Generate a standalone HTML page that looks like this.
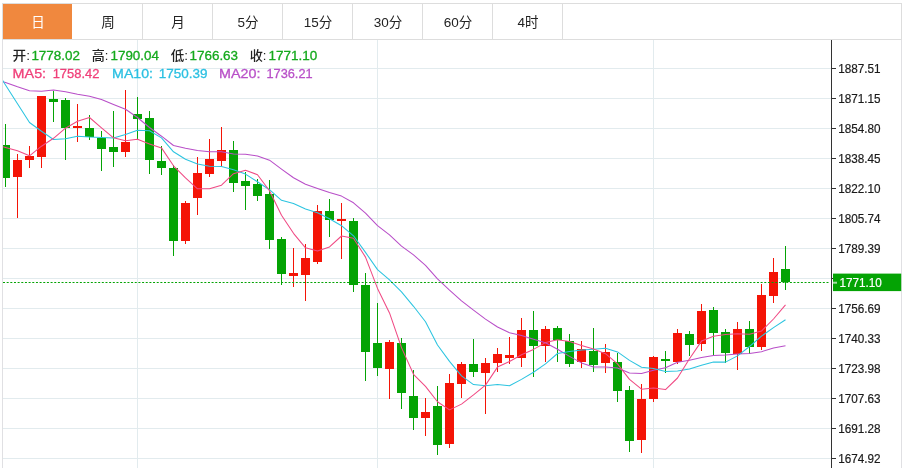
<!DOCTYPE html>
<html lang="zh-CN">
<head>
<meta charset="utf-8">
<title>K线图</title>
<style>
html,body{margin:0;padding:0;background:#fff;}
body{width:903px;height:468px;position:relative;overflow:hidden;font-family:"Liberation Sans","Noto Sans CJK SC",sans-serif;}
.tabs{position:absolute;left:2px;top:3px;width:898px;height:35px;margin:0;padding:0;list-style:none;border:1px solid #ddd;background:#fff;z-index:2;}
.tab{float:left;width:68px;padding-left:1px;height:35px;line-height:37px;text-align:center;font-size:13.5px;color:#222;border-right:1px solid #ddd;}
.tab.on{background:#f0883e;color:#fff;border-right-color:#fff;}
.chart{position:absolute;left:0;top:0;}
.chart text{font-family:"Liberation Sans","Noto Sans CJK SC",sans-serif;}
.ylab text{font-size:13px;fill:#1a1a1a;stroke:#1a1a1a;stroke-width:0.2px;}
.cur{font-size:13px;fill:#fff;stroke:#fff;stroke-width:0.2px;}
.info text{font-size:13px;}
.info .cjk{font-weight:500;}
</style>
</head>
<body>
<svg class="chart" width="903" height="468" viewBox="0 0 903 468">
<defs><clipPath id="plot"><rect x="3" y="40" width="828" height="428"/></clipPath></defs>
<g stroke="#e2ebee" stroke-width="1" shape-rendering="crispEdges">
<line x1="3" y1="68.5" x2="831" y2="68.5"/>
<line x1="3" y1="98.5" x2="831" y2="98.5"/>
<line x1="3" y1="128.5" x2="831" y2="128.5"/>
<line x1="3" y1="158.5" x2="831" y2="158.5"/>
<line x1="3" y1="188.5" x2="831" y2="188.5"/>
<line x1="3" y1="218.5" x2="831" y2="218.5"/>
<line x1="3" y1="248.5" x2="831" y2="248.5"/>
<line x1="3" y1="278.5" x2="831" y2="278.5"/>
<line x1="3" y1="308.5" x2="831" y2="308.5"/>
<line x1="3" y1="338.5" x2="831" y2="338.5"/>
<line x1="3" y1="368.5" x2="831" y2="368.5"/>
<line x1="3" y1="398.5" x2="831" y2="398.5"/>
<line x1="3" y1="428.5" x2="831" y2="428.5"/>
<line x1="3" y1="458.5" x2="831" y2="458.5"/>
<line x1="137.5" y1="40" x2="137.5" y2="468"/>
<line x1="377.5" y1="40" x2="377.5" y2="468"/>
<line x1="653.5" y1="40" x2="653.5" y2="468"/>
</g>
<g stroke="#e0e0e3" stroke-width="1" shape-rendering="crispEdges"><line x1="2.5" y1="40" x2="2.5" y2="468"/><line x1="901.5" y1="40" x2="901.5" y2="468"/></g>
<g clip-path="url(#plot)" shape-rendering="crispEdges">
<rect x="5" y="124" width="1" height="63" fill="#04a304"/>
<rect x="1" y="145" width="9" height="33" fill="#04a304"/>
<rect x="17" y="154" width="1" height="64" fill="#f41406"/>
<rect x="13" y="160" width="9" height="17" fill="#f41406"/>
<rect x="29" y="146" width="1" height="22" fill="#f41406"/>
<rect x="25" y="156" width="9" height="4" fill="#f41406"/>
<rect x="41" y="96" width="1" height="72" fill="#f41406"/>
<rect x="37" y="96" width="9" height="61" fill="#f41406"/>
<rect x="53" y="91" width="1" height="31" fill="#04a304"/>
<rect x="49" y="99" width="9" height="3" fill="#04a304"/>
<rect x="65" y="98" width="1" height="62" fill="#04a304"/>
<rect x="61" y="100" width="9" height="28" fill="#04a304"/>
<rect x="77" y="104" width="1" height="38" fill="#f41406"/>
<rect x="73" y="126" width="9" height="2" fill="#f41406"/>
<rect x="89" y="115" width="1" height="25" fill="#04a304"/>
<rect x="85" y="128" width="9" height="9" fill="#04a304"/>
<rect x="101" y="131" width="1" height="40" fill="#04a304"/>
<rect x="97" y="138" width="9" height="11" fill="#04a304"/>
<rect x="113" y="111" width="1" height="56" fill="#04a304"/>
<rect x="109" y="147" width="9" height="5" fill="#04a304"/>
<rect x="125" y="90" width="1" height="67" fill="#f41406"/>
<rect x="121" y="142" width="9" height="10" fill="#f41406"/>
<rect x="137" y="97" width="1" height="43" fill="#04a304"/>
<rect x="133" y="114" width="9" height="5" fill="#04a304"/>
<rect x="149" y="111" width="1" height="63" fill="#04a304"/>
<rect x="145" y="118" width="9" height="42" fill="#04a304"/>
<rect x="161" y="146" width="1" height="29" fill="#04a304"/>
<rect x="157" y="161" width="9" height="7" fill="#04a304"/>
<rect x="173" y="165" width="1" height="91" fill="#04a304"/>
<rect x="169" y="168" width="9" height="73" fill="#04a304"/>
<rect x="185" y="201" width="1" height="43" fill="#f41406"/>
<rect x="181" y="203" width="9" height="38" fill="#f41406"/>
<rect x="197" y="157" width="1" height="58" fill="#f41406"/>
<rect x="193" y="173" width="9" height="25" fill="#f41406"/>
<rect x="209" y="139" width="1" height="38" fill="#f41406"/>
<rect x="205" y="159" width="9" height="15" fill="#f41406"/>
<rect x="221" y="127" width="1" height="39" fill="#f41406"/>
<rect x="217" y="150" width="9" height="11" fill="#f41406"/>
<rect x="233" y="141" width="1" height="51" fill="#04a304"/>
<rect x="229" y="150" width="9" height="33" fill="#04a304"/>
<rect x="245" y="172" width="1" height="38" fill="#04a304"/>
<rect x="241" y="181" width="9" height="5" fill="#04a304"/>
<rect x="257" y="179" width="1" height="22" fill="#04a304"/>
<rect x="253" y="184" width="9" height="12" fill="#04a304"/>
<rect x="269" y="180" width="1" height="69" fill="#04a304"/>
<rect x="265" y="194" width="9" height="46" fill="#04a304"/>
<rect x="281" y="237" width="1" height="48" fill="#04a304"/>
<rect x="277" y="239" width="9" height="35" fill="#04a304"/>
<rect x="293" y="248" width="1" height="39" fill="#f41406"/>
<rect x="289" y="273" width="9" height="3" fill="#f41406"/>
<rect x="305" y="244" width="1" height="57" fill="#f41406"/>
<rect x="301" y="258" width="9" height="17" fill="#f41406"/>
<rect x="317" y="205" width="1" height="59" fill="#f41406"/>
<rect x="313" y="211" width="9" height="51" fill="#f41406"/>
<rect x="329" y="199" width="1" height="38" fill="#04a304"/>
<rect x="325" y="211" width="9" height="9" fill="#04a304"/>
<rect x="341" y="203" width="1" height="56" fill="#f41406"/>
<rect x="337" y="219" width="9" height="2" fill="#f41406"/>
<rect x="353" y="218" width="1" height="74" fill="#04a304"/>
<rect x="349" y="221" width="9" height="64" fill="#04a304"/>
<rect x="365" y="273" width="1" height="108" fill="#04a304"/>
<rect x="361" y="285" width="9" height="67" fill="#04a304"/>
<rect x="377" y="303" width="1" height="73" fill="#04a304"/>
<rect x="373" y="343" width="9" height="25" fill="#04a304"/>
<rect x="389" y="340" width="1" height="59" fill="#f41406"/>
<rect x="385" y="342" width="9" height="27" fill="#f41406"/>
<rect x="401" y="338" width="1" height="71" fill="#04a304"/>
<rect x="397" y="343" width="9" height="50" fill="#04a304"/>
<rect x="413" y="370" width="1" height="60" fill="#04a304"/>
<rect x="409" y="396" width="9" height="22" fill="#04a304"/>
<rect x="425" y="398" width="1" height="38" fill="#f41406"/>
<rect x="421" y="412" width="9" height="6" fill="#f41406"/>
<rect x="437" y="386" width="1" height="69" fill="#04a304"/>
<rect x="433" y="406" width="9" height="39" fill="#04a304"/>
<rect x="449" y="374" width="1" height="74" fill="#f41406"/>
<rect x="445" y="383" width="9" height="61" fill="#f41406"/>
<rect x="461" y="362" width="1" height="36" fill="#f41406"/>
<rect x="457" y="364" width="9" height="20" fill="#f41406"/>
<rect x="473" y="339" width="1" height="38" fill="#04a304"/>
<rect x="469" y="364" width="9" height="8" fill="#04a304"/>
<rect x="485" y="358" width="1" height="56" fill="#f41406"/>
<rect x="481" y="363" width="9" height="10" fill="#f41406"/>
<rect x="497" y="348" width="1" height="24" fill="#f41406"/>
<rect x="493" y="354" width="9" height="9" fill="#f41406"/>
<rect x="509" y="337" width="1" height="27" fill="#f41406"/>
<rect x="505" y="355" width="9" height="3" fill="#f41406"/>
<rect x="521" y="318" width="1" height="49" fill="#f41406"/>
<rect x="517" y="330" width="9" height="28" fill="#f41406"/>
<rect x="533" y="311" width="1" height="66" fill="#04a304"/>
<rect x="529" y="330" width="9" height="16" fill="#04a304"/>
<rect x="545" y="326" width="1" height="36" fill="#f41406"/>
<rect x="541" y="329" width="9" height="17" fill="#f41406"/>
<rect x="557" y="326" width="1" height="36" fill="#04a304"/>
<rect x="553" y="328" width="9" height="12" fill="#04a304"/>
<rect x="569" y="334" width="1" height="33" fill="#04a304"/>
<rect x="565" y="341" width="9" height="23" fill="#04a304"/>
<rect x="581" y="341" width="1" height="27" fill="#f41406"/>
<rect x="577" y="349" width="9" height="13" fill="#f41406"/>
<rect x="593" y="328" width="1" height="44" fill="#04a304"/>
<rect x="589" y="351" width="9" height="14" fill="#04a304"/>
<rect x="605" y="344" width="1" height="29" fill="#f41406"/>
<rect x="601" y="352" width="9" height="11" fill="#f41406"/>
<rect x="617" y="353" width="1" height="49" fill="#04a304"/>
<rect x="613" y="362" width="9" height="29" fill="#04a304"/>
<rect x="629" y="386" width="1" height="66" fill="#04a304"/>
<rect x="625" y="390" width="9" height="51" fill="#04a304"/>
<rect x="641" y="384" width="1" height="69" fill="#f41406"/>
<rect x="637" y="399" width="9" height="41" fill="#f41406"/>
<rect x="653" y="356" width="1" height="46" fill="#f41406"/>
<rect x="649" y="357" width="9" height="42" fill="#f41406"/>
<rect x="665" y="351" width="1" height="22" fill="#04a304"/>
<rect x="661" y="359" width="9" height="2" fill="#04a304"/>
<rect x="677" y="329" width="1" height="35" fill="#f41406"/>
<rect x="673" y="333" width="9" height="29" fill="#f41406"/>
<rect x="689" y="331" width="1" height="25" fill="#04a304"/>
<rect x="685" y="334" width="9" height="11" fill="#04a304"/>
<rect x="701" y="304" width="1" height="47" fill="#f41406"/>
<rect x="697" y="311" width="9" height="33" fill="#f41406"/>
<rect x="713" y="307" width="1" height="49" fill="#04a304"/>
<rect x="709" y="310" width="9" height="23" fill="#04a304"/>
<rect x="725" y="329" width="1" height="34" fill="#04a304"/>
<rect x="721" y="332" width="9" height="21" fill="#04a304"/>
<rect x="737" y="322" width="1" height="48" fill="#f41406"/>
<rect x="733" y="329" width="9" height="25" fill="#f41406"/>
<rect x="749" y="321" width="1" height="33" fill="#04a304"/>
<rect x="745" y="329" width="9" height="18" fill="#04a304"/>
<rect x="761" y="284" width="1" height="66" fill="#f41406"/>
<rect x="757" y="295" width="9" height="52" fill="#f41406"/>
<rect x="773" y="258" width="1" height="45" fill="#f41406"/>
<rect x="769" y="272" width="9" height="24" fill="#f41406"/>
<rect x="785" y="246" width="1" height="44" fill="#04a304"/>
<rect x="781" y="269" width="9" height="13" fill="#04a304"/>
</g>
<polyline clip-path="url(#plot)" points="-6.5,79.0 5.5,82.5 17.5,86.8 29.5,90.8 41.5,91.2 53.5,90.0 65.5,91.8 77.5,94.2 89.5,96.2 101.5,99.5 113.5,104.5 125.5,109.2 137.5,117.5 149.5,127.5 161.5,136.2 173.5,145.5 185.5,148.2 197.5,150.5 209.5,151.8 221.5,151.8 233.5,153.9 245.5,154.3 257.5,156.0 269.5,160.2 281.5,169.1 293.5,177.7 305.5,184.2 317.5,188.4 329.5,192.6 341.5,196.1 353.5,202.8 365.5,213.2 377.5,225.7 389.5,234.8 401.5,246.1 413.5,254.9 425.5,265.4 437.5,278.9 449.5,290.1 461.5,300.8 473.5,310.2 485.5,319.1 497.5,327.0 509.5,332.8 521.5,335.6 533.5,339.2 545.5,342.8 557.5,349.2 569.5,356.4 581.5,362.9 593.5,366.9 605.5,367.0 617.5,368.1 629.5,373.1 641.5,373.4 653.5,370.3 665.5,367.8 677.5,362.2 689.5,360.3 701.5,357.6 713.5,355.6 725.5,355.1 737.5,353.9 749.5,353.5 761.5,351.7 773.5,348.0 785.5,345.7" fill="none" stroke="#b84ec8" stroke-width="1.05" stroke-linejoin="round"/>
<polyline clip-path="url(#plot)" points="-6.5,66.0 5.5,85.0 17.5,103.8 29.5,122.5 41.5,131.2 53.5,139.5 65.5,138.8 77.5,136.2 89.5,137.0 101.5,137.5 113.5,138.1 125.5,134.4 137.5,130.3 149.5,130.8 161.5,137.9 173.5,151.8 185.5,159.3 197.5,164.1 209.5,166.3 221.5,166.6 233.5,169.7 245.5,174.1 257.5,181.8 269.5,189.7 281.5,200.3 293.5,203.5 305.5,209.0 317.5,212.8 329.5,218.8 341.5,225.7 353.5,235.8 365.5,252.4 377.5,269.6 389.5,279.9 401.5,291.8 413.5,306.3 425.5,321.7 437.5,345.0 449.5,361.4 461.5,375.9 473.5,384.6 485.5,385.8 497.5,384.4 509.5,385.7 521.5,379.4 533.5,372.2 545.5,363.9 557.5,353.5 569.5,351.5 581.5,350.0 593.5,349.3 605.5,348.2 617.5,351.9 629.5,360.4 641.5,367.3 653.5,368.5 665.5,371.6 677.5,370.9 689.5,369.1 701.5,365.2 713.5,362.0 725.5,362.1 737.5,355.9 749.5,346.5 761.5,336.1 773.5,327.6 785.5,319.7" fill="none" stroke="#2cc4e0" stroke-width="1.05" stroke-linejoin="round"/>
<polyline clip-path="url(#plot)" points="-6.5,144.0 5.5,147.5 17.5,150.8 29.5,155.8 41.5,146.2 53.5,138.3 65.5,128.2 77.5,121.3 89.5,117.5 101.5,127.8 113.5,137.8 125.5,140.7 137.5,139.3 149.5,144.1 161.5,147.9 173.5,165.8 185.5,177.9 197.5,188.8 209.5,188.7 221.5,185.2 233.5,173.7 245.5,170.2 257.5,174.7 269.5,190.8 281.5,215.3 293.5,233.3 305.5,247.8 317.5,250.9 329.5,246.9 341.5,236.0 353.5,238.3 365.5,257.1 377.5,288.4 389.5,312.9 401.5,347.6 413.5,374.3 425.5,386.4 437.5,401.7 449.5,409.9 461.5,404.1 473.5,394.9 485.5,385.1 497.5,367.1 509.5,361.5 521.5,354.7 533.5,349.4 545.5,342.6 557.5,339.8 569.5,341.6 581.5,345.4 593.5,349.1 605.5,353.7 617.5,363.9 629.5,379.4 641.5,389.2 653.5,387.9 665.5,389.6 677.5,378.0 689.5,358.8 701.5,341.1 713.5,336.2 725.5,334.6 737.5,333.7 749.5,334.2 761.5,331.1 773.5,319.0 785.5,304.9" fill="none" stroke="#f04a84" stroke-width="1.05" stroke-linejoin="round"/>
<line x1="3" y1="282.5" x2="829.6" y2="282.5" stroke="#04a304" stroke-width="1" stroke-dasharray="2 1.66"/>
<g stroke="#333333" stroke-width="1" shape-rendering="crispEdges">
<line x1="831.5" y1="40" x2="831.5" y2="468"/>
<line x1="832" y1="68.5" x2="836" y2="68.5"/>
<line x1="832" y1="98.5" x2="836" y2="98.5"/>
<line x1="832" y1="128.5" x2="836" y2="128.5"/>
<line x1="832" y1="158.5" x2="836" y2="158.5"/>
<line x1="832" y1="188.5" x2="836" y2="188.5"/>
<line x1="832" y1="218.5" x2="836" y2="218.5"/>
<line x1="832" y1="248.5" x2="836" y2="248.5"/>
<line x1="832" y1="278.5" x2="836" y2="278.5"/>
<line x1="832" y1="308.5" x2="836" y2="308.5"/>
<line x1="832" y1="338.5" x2="836" y2="338.5"/>
<line x1="832" y1="368.5" x2="836" y2="368.5"/>
<line x1="832" y1="398.5" x2="836" y2="398.5"/>
<line x1="832" y1="428.5" x2="836" y2="428.5"/>
<line x1="832" y1="458.5" x2="836" y2="458.5"/>
</g>
<g class="ylab">
<text x="838.2" y="72.9" textLength="42.4" lengthAdjust="spacingAndGlyphs">1887.51</text>
<text x="838.2" y="102.9" textLength="42.4" lengthAdjust="spacingAndGlyphs">1871.15</text>
<text x="838.2" y="132.9" textLength="42.4" lengthAdjust="spacingAndGlyphs">1854.80</text>
<text x="838.2" y="162.9" textLength="42.4" lengthAdjust="spacingAndGlyphs">1838.45</text>
<text x="838.2" y="192.9" textLength="42.4" lengthAdjust="spacingAndGlyphs">1822.10</text>
<text x="838.2" y="222.9" textLength="42.4" lengthAdjust="spacingAndGlyphs">1805.74</text>
<text x="838.2" y="252.9" textLength="42.4" lengthAdjust="spacingAndGlyphs">1789.39</text>
<text x="838.2" y="312.9" textLength="42.4" lengthAdjust="spacingAndGlyphs">1756.69</text>
<text x="838.2" y="342.9" textLength="42.4" lengthAdjust="spacingAndGlyphs">1740.33</text>
<text x="838.2" y="372.9" textLength="42.4" lengthAdjust="spacingAndGlyphs">1723.98</text>
<text x="838.2" y="402.9" textLength="42.4" lengthAdjust="spacingAndGlyphs">1707.63</text>
<text x="838.2" y="432.9" textLength="42.4" lengthAdjust="spacingAndGlyphs">1691.28</text>
<text x="838.2" y="462.9" textLength="42.4" lengthAdjust="spacingAndGlyphs">1674.92</text>
</g>
<rect x="833" y="273.6" width="68.2" height="17.5" fill="#04a304"/>
<line x1="833" y1="282.7" x2="837" y2="282.7" stroke="#a6dca6" stroke-width="2"/>
<text class="cur" x="839.5" y="286.9" textLength="42.4" lengthAdjust="spacingAndGlyphs">1771.10</text>
<g class="info">
<text class="cjk" x="12.41" y="60.3" fill="#222222" stroke="#222222" stroke-width="0" textLength="17.55" lengthAdjust="spacingAndGlyphs">开:</text>
<text x="31.41" y="60.3" fill="#14a91c" stroke="#14a91c" stroke-width="0.3" textLength="48.53" lengthAdjust="spacingAndGlyphs">1778.02</text>
<text class="cjk" x="91.78" y="60.3" fill="#222222" stroke="#222222" stroke-width="0" textLength="16.64" lengthAdjust="spacingAndGlyphs">高:</text>
<text x="110.46" y="60.3" fill="#14a91c" stroke="#14a91c" stroke-width="0.3" textLength="48.52" lengthAdjust="spacingAndGlyphs">1790.04</text>
<text class="cjk" x="170.66" y="60.3" fill="#222222" stroke="#222222" stroke-width="0" textLength="17.28" lengthAdjust="spacingAndGlyphs">低:</text>
<text x="189.49" y="60.3" fill="#14a91c" stroke="#14a91c" stroke-width="0.3" textLength="48.60" lengthAdjust="spacingAndGlyphs">1766.63</text>
<text class="cjk" x="249.66" y="60.3" fill="#222222" stroke="#222222" stroke-width="0" textLength="16.76" lengthAdjust="spacingAndGlyphs">收:</text>
<text x="268.44" y="60.3" fill="#14a91c" stroke="#14a91c" stroke-width="0.3" textLength="48.81" lengthAdjust="spacingAndGlyphs">1771.10</text>
<text x="12.64" y="78.4" fill="#f0407a" stroke="#f0407a" stroke-width="0.3" textLength="33.48" lengthAdjust="spacingAndGlyphs">MA5:</text>
<text x="52.70" y="78.4" fill="#f0407a" stroke="#f0407a" stroke-width="0.3" textLength="46.71" lengthAdjust="spacingAndGlyphs">1758.42</text>
<text x="112.09" y="78.4" fill="#2cc0e2" stroke="#2cc0e2" stroke-width="0.3" textLength="40.95" lengthAdjust="spacingAndGlyphs">MA10:</text>
<text x="158.71" y="78.4" fill="#2cc0e2" stroke="#2cc0e2" stroke-width="0.3" textLength="48.69" lengthAdjust="spacingAndGlyphs">1750.39</text>
<text x="219.02" y="78.4" fill="#b950c8" stroke="#b950c8" stroke-width="0.3" textLength="41.35" lengthAdjust="spacingAndGlyphs">MA20:</text>
<text x="266.47" y="78.4" fill="#b950c8" stroke="#b950c8" stroke-width="0.3" textLength="46.13" lengthAdjust="spacingAndGlyphs">1736.21</text>
</g>
</svg>
<ul class="tabs"><li class="tab on">日</li><li class="tab">周</li><li class="tab">月</li><li class="tab">5分</li><li class="tab">15分</li><li class="tab">30分</li><li class="tab">60分</li><li class="tab">4时</li></ul>
</body>
</html>
